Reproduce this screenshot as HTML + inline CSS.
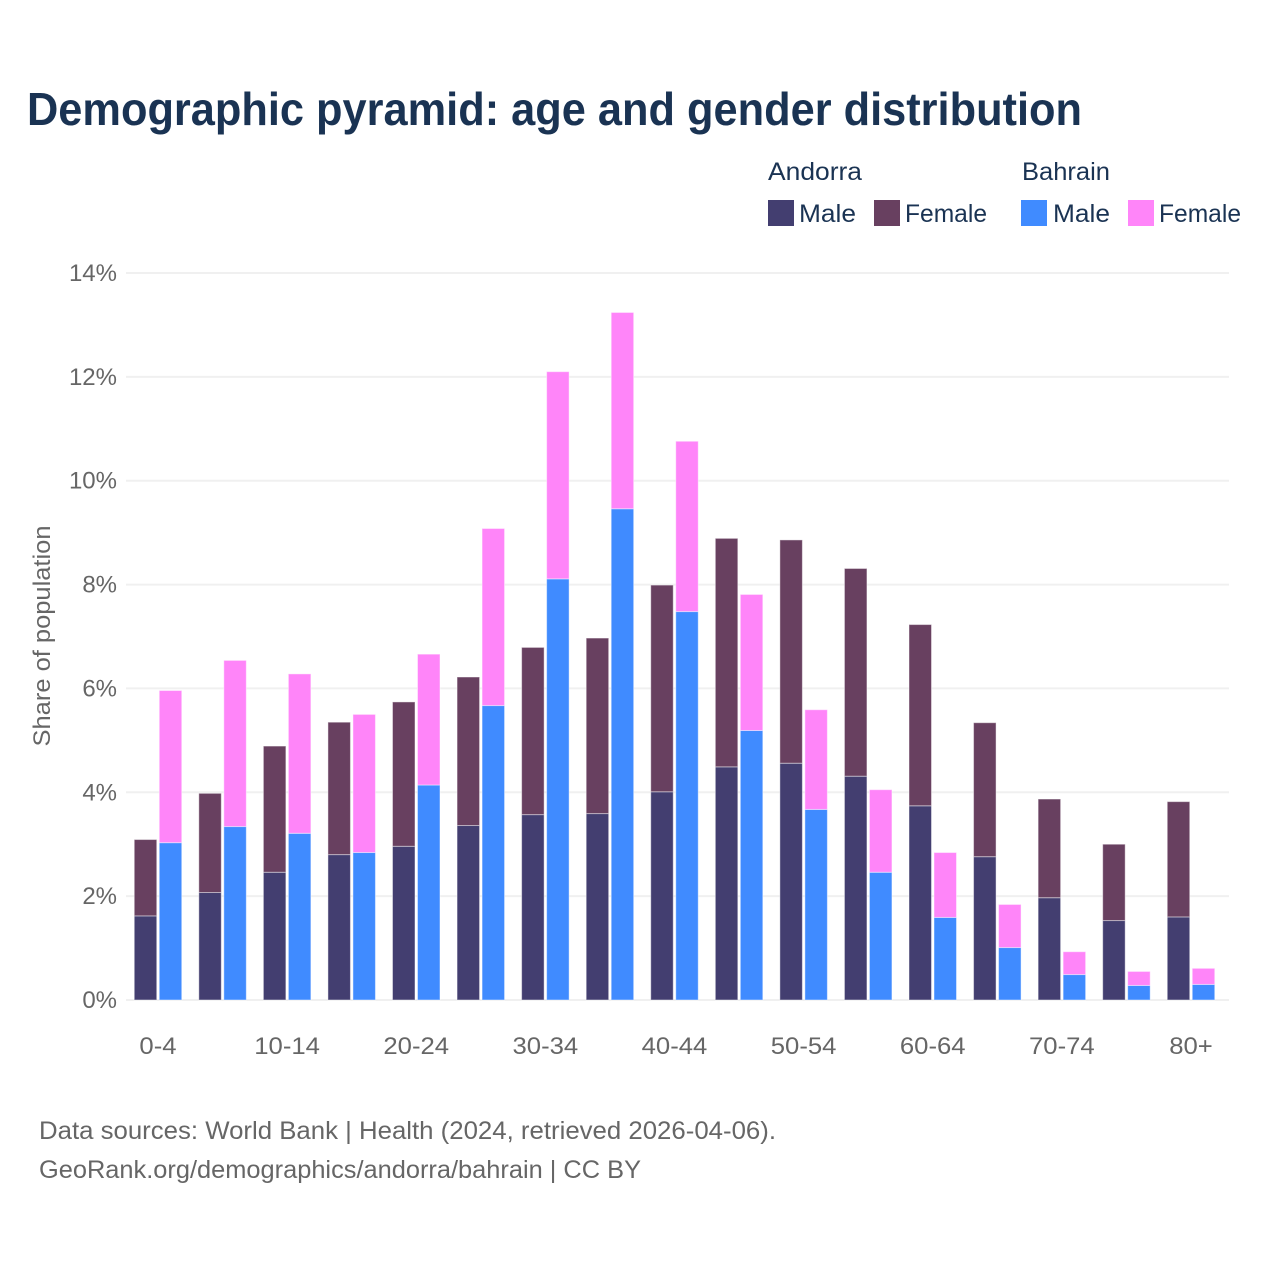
<!DOCTYPE html>
<html lang="en">
<head>
<meta charset="utf-8">
<title>Demographic pyramid: age and gender distribution</title>
<style>
html,body{margin:0;padding:0;background:#fff;}
svg{display:block;font-family:"Liberation Sans",sans-serif;}
</style>
</head>
<body>
<svg id="chart" xmlns="http://www.w3.org/2000/svg" width="1280" height="1280" viewBox="0 0 1280 1280">
  <rect width="1280" height="1280" fill="#fff"/>
  <text x="27" y="125" font-size="46" font-weight="700" fill="#1a3353" textLength="1055" lengthAdjust="spacingAndGlyphs">Demographic pyramid: age and gender distribution</text>

  <g font-size="25" fill="#1a3353">
    <text x="768" y="180" textLength="94" lengthAdjust="spacingAndGlyphs">Andorra</text>
    <text x="1022" y="180" textLength="88" lengthAdjust="spacingAndGlyphs">Bahrain</text>
    <rect x="768" y="200" width="26" height="26" fill="#433e70"/>
    <text x="799" y="222" textLength="57" lengthAdjust="spacingAndGlyphs">Male</text>
    <rect x="874" y="200" width="26" height="26" fill="#684060"/>
    <text x="905" y="222" textLength="82" lengthAdjust="spacingAndGlyphs">Female</text>
    <rect x="1021" y="200" width="26" height="26" fill="#408bff"/>
    <text x="1053" y="222" textLength="57" lengthAdjust="spacingAndGlyphs">Male</text>
    <rect x="1128" y="200" width="26" height="26" fill="#ff85f9"/>
    <text x="1159" y="222" textLength="82" lengthAdjust="spacingAndGlyphs">Female</text>
  </g>

  <g id="grid"></g>
  <g id="yticks" font-size="24" fill="#666"></g>
  <g id="bars"></g>
  <g id="xticks" font-size="24" fill="#666"></g>

  <text transform="translate(50,636) rotate(-90)" text-anchor="middle" font-size="24" fill="#666" textLength="221" lengthAdjust="spacingAndGlyphs">Share of population</text>

  <text x="39" y="1139" font-size="25" fill="#666" textLength="737" lengthAdjust="spacingAndGlyphs">Data sources: World Bank | Health (2024, retrieved 2026-04-06).</text>
  <text x="39" y="1178" font-size="25" fill="#666" textLength="602" lengthAdjust="spacingAndGlyphs">GeoRank.org/demographics/andorra/bahrain | CC BY</text>
</svg>
<script>
const categories = ["0-4","5-9","10-14","15-19","20-24","25-29","30-34","35-39","40-44","45-49","50-54","55-59","60-64","65-69","70-74","75-79","80+"];
const visibleCategoryLabels = ["0-4","10-14","20-24","30-34","40-44","50-54","60-64","70-74","80+"];
const andorraMale = [1.62,2.07,2.46,2.80,2.96,3.36,3.57,3.59,4.01,4.49,4.56,4.31,3.74,2.76,1.97,1.53,1.60];
const andorraFemale = [1.47,1.91,2.43,2.55,2.78,2.86,3.22,3.38,3.98,4.40,4.30,4.00,3.49,2.58,1.90,1.47,2.22];
const bahrainMale = [3.03,3.34,3.21,2.84,4.14,5.67,8.11,9.46,7.48,5.19,3.67,2.46,1.59,1.01,0.49,0.28,0.30];
const bahrainFemale = [2.93,3.20,3.07,2.66,2.52,3.41,3.99,3.78,3.28,2.62,1.92,1.59,1.25,0.83,0.44,0.27,0.31];
const yTicks = [0,2,4,6,8,10,12,14];

const NS = "http://www.w3.org/2000/svg";
const plotLeft = 126, plotRight = 1229, plotBottom = 1000, plotTop = 273, yMax = 14;
const firstCenter = 158, lastCenter = 1191;
const barW = 23, barGap = 2;

function yScale(v) { return plotBottom - (v / yMax) * (plotBottom - plotTop); }
function xCenter(i) { return firstCenter + i * (lastCenter - firstCenter) / (categories.length - 1); }
function make(tag, attrs, parent) {
  const el = document.createElementNS(NS, tag);
  for (const k in attrs) el.setAttribute(k, attrs[k]);
  parent.appendChild(el);
  return el;
}

const gridG = document.getElementById("grid");
const yTickG = document.getElementById("yticks");
yTicks.forEach(function (t) {
  const line = make("line", {x1: plotLeft, x2: plotRight, y1: yScale(t), y2: yScale(t), stroke: "#f0f0f0", "stroke-width": 2}, gridG);
  
  
  const label = make("text", {x: 117, y: yScale(t) + 8, "text-anchor": "end"}, yTickG);
  label.textContent = t + "%";
  
  
});

const barsG = document.getElementById("bars");
function drawBar(x, base, value, fill) {
  const y0 = yScale(base), y1 = yScale(base + value);
  const bar = make("rect", {x: x + 0.25, y: y1, width: barW - 0.5, height: y0 - y1, fill: fill, stroke: "#fff", "stroke-opacity": 0.45, "stroke-width": 1}, barsG);
  
  
}
categories.forEach(function (c, i) {
  const cx = xCenter(i);
  const ax = cx - barGap / 2 - barW, bx = cx + barGap / 2;
  drawBar(ax, 0, andorraMale[i], "#433e70");
  drawBar(ax, andorraMale[i], andorraFemale[i], "#684060");
  drawBar(bx, 0, bahrainMale[i], "#408bff");
  drawBar(bx, bahrainMale[i], bahrainFemale[i], "#ff85f9");
});

const xTickG = document.getElementById("xticks");
categories.forEach(function (c, i) {
  if (visibleCategoryLabels.indexOf(c) < 0) return;
  const label = make("text", {x: xCenter(i), y: 1054, "text-anchor": "middle", lengthAdjust: "spacingAndGlyphs"}, xTickG);
  label.textContent = c;
  label.setAttribute("textLength", label.getComputedTextLength() * 1.07);
  
  
});
</script>
</body>
</html>
